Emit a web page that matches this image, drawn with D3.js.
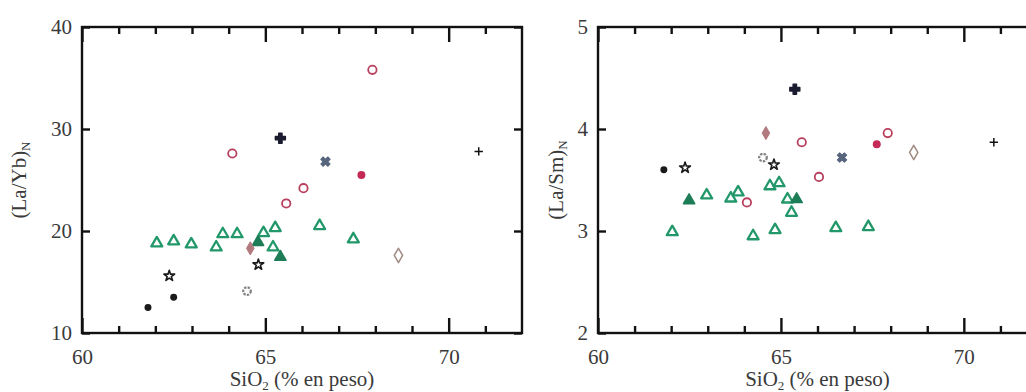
<!DOCTYPE html>
<html>
<head>
<meta charset="utf-8">
<script src="https://cdn.jsdelivr.net/npm/d3@7"></script>
<style>
  html, body { margin: 0; padding: 0; background: #fff; }
  svg { display: block; }
  .tick text { font-family: "Liberation Serif", "DejaVu Serif", serif; font-size: 21px; fill: #3a3a3a; }
  .axis-title { font-family: "Liberation Serif", "DejaVu Serif", serif; font-size: 21px; fill: #3a3a3a; }
</style>
</head>
<body>
<svg id="chart" width="1026" height="392"></svg>
<script>
// ---- data: [SiO2 wt%, ratio] ----
// (La/Yb)N panel
const blackDotYb    = [[61.8, 12.5], [62.5, 13.5]];
const starYb        = [[62.38, 15.6], [64.81, 16.7]];
const clubYb        = [[65.41, 29.1]];
const plusYb        = [[70.82, 27.8]];
const crossYb       = [[66.64, 26.8]];
const redDotYb      = [[67.62, 25.5]];
const ringYb        = [[64.1, 27.6], [67.92, 35.8], [66.04, 24.2], [65.57, 22.7]];
const diamondYb     = [[64.59, 18.3]];
const openDiamondYb = [[68.63, 17.6]];
const gearYb        = [[64.5, 14.1]];
const triOpenYb     = [[62.04, 18.9], [62.5, 19.1], [62.98, 18.8], [63.66, 18.5], [63.84, 19.8],
                       [64.23, 19.8], [64.95, 19.9], [65.27, 20.4], [65.21, 18.5], [66.48, 20.6], [67.4, 19.3]];
const triFilledYb   = [[64.8, 19.0], [65.41, 17.55]];

// (La/Sm)N panel
const blackDotSm    = [[61.8, 3.6]];
const starSm        = [[62.38, 3.62], [64.81, 3.65]];
const clubSm        = [[65.38, 4.39]];
const plusSm        = [[70.82, 3.87]];
const crossSm       = [[66.67, 3.72]];
const redDotSm      = [[67.62, 3.85]];
const ringSm        = [[65.57, 3.87], [67.92, 3.96], [66.04, 3.53], [64.07, 3.28]];
const diamondSm     = [[64.59, 3.96]];
const openDiamondSm = [[68.63, 3.77]];
const gearSm        = [[64.51, 3.72]];
const triOpenSm     = [[62.03, 3.0], [62.97, 3.36], [63.63, 3.33], [63.83, 3.39], [64.24, 2.96],
                       [64.7, 3.45], [64.95, 3.48], [64.84, 3.02], [65.18, 3.32], [65.29, 3.19],
                       [66.5, 3.04], [67.39, 3.05]];
const triFilledSm   = [[62.49, 3.31], [65.43, 3.32]];

// axes
const xDomain = [60, 72];
const xMajorTicks = [60, 65, 70];
const xMinorTicks = [61, 62, 63, 64, 66, 67, 68, 69, 71];
const ybTicks = [10, 20, 30, 40];
const smTicks = [2, 3, 4, 5];

// ---- drawing ----
const svg = d3.select("#chart");
const GREEN = "#22986a";

// plain "+" drawn as two strokes
const plusType = {
  draw(ctx, size) {
    const r = Math.sqrt(size) / 2;
    ctx.moveTo(-r, 0); ctx.lineTo(r, 0);
    ctx.moveTo(0, -r); ctx.lineTo(0, r);
  }
};

function styles() {
  return [
    { fill: "none", stroke: GREEN, sw: 2.3, type: d3.symbolTriangle, size: 52, dy: 1 },
    { fill: "#1d7d57", stroke: "#1d7d57", sw: 1.5, type: d3.symbolTriangle, size: 55, dy: 1 },
    { fill: "#1a1a1a", stroke: "none", sw: 0, type: d3.symbolCircle, size: 38 },
    { fill: "none", stroke: "#1a1a1a", sw: 1.6, type: d3.symbolStar, size: 36 },
    { fill: "#1c1c30", stroke: "#1c1c30", sw: 1.5, type: d3.symbolCross, size: 55 },
    { fill: "none", stroke: "#111", sw: 1.5, type: plusType, size: 70 },
    { fill: "#56657c", stroke: "#56657c", sw: 1, type: d3.symbolCross, size: 55, rot: 45 },
    { fill: "#c42a55", stroke: "none", sw: 0, type: d3.symbolCircle, size: 50 },
    { fill: "none", stroke: "#b8405e", sw: 1.8, type: d3.symbolCircle, size: 55 },
    { fill: "#b27a7f", stroke: "#b27a7f", sw: 1, type: d3.symbolDiamond, size: 50 },
    { fill: "none", stroke: "#a08a82", sw: 1.5, type: d3.symbolDiamond, size: 60 },
    { fill: "none", stroke: "#808080", sw: 2.2, type: d3.symbolCircle, size: 45, dash: "2.4,1.2" }
  ];
}

function panel(opts) {
  const { left, right, top, bottom, yDomain, yTicks, series, yTitle } = opts;
  const x = d3.scaleLinear().domain(xDomain).range([left, right]);
  const y = d3.scaleLinear().domain(yDomain).range([bottom, top]);
  const g = svg.append("g");

  const clean = sel => { sel.select(".domain").remove(); sel.selectAll(".tick line").attr("stroke", "#111").attr("stroke-width", 2.4); };

  // bottom axis: major with labels, minor without
  g.append("g").attr("transform", `translate(0,${bottom})`)
    .call(d3.axisBottom(x).tickValues(xMajorTicks).tickSize(-15).tickPadding(16).tickFormat(d3.format("d")))
    .call(clean);
  g.append("g").attr("transform", `translate(0,${bottom})`)
    .call(d3.axisBottom(x).tickValues(xMinorTicks).tickSize(-7).tickFormat(""))
    .call(clean);
  // top axis
  g.append("g").attr("transform", `translate(0,${top})`)
    .call(d3.axisTop(x).tickValues(xMajorTicks).tickSize(-15).tickFormat(""))
    .call(clean);
  g.append("g").attr("transform", `translate(0,${top})`)
    .call(d3.axisTop(x).tickValues(xMinorTicks).tickSize(-7).tickFormat(""))
    .call(clean);
  // left / right axes
  g.append("g").attr("transform", `translate(${left},0)`)
    .call(d3.axisLeft(y).tickValues(yTicks).tickSize(-8).tickPadding(10).tickFormat(d3.format("d")))
    .call(clean);
  g.append("g").attr("transform", `translate(${right},0)`)
    .call(d3.axisRight(y).tickValues(yTicks).tickSize(-8).tickFormat(""))
    .call(clean);

  g.selectAll(".tick text").attr("font-family", null).attr("font-size", null);

  // frame
  g.append("rect")
    .attr("x", left).attr("y", top)
    .attr("width", right - left).attr("height", bottom - top)
    .attr("fill", "none").attr("stroke", "#111").attr("stroke-width", 2.4);

  // markers
  const st = styles();
  series.forEach((data, i) => {
    const s = st[i];
    const sym = d3.symbol().type(s.type).size(s.size);
    g.append("g").selectAll("path").data(data).join("path")
      .attr("d", sym)
      .attr("transform", d => `translate(${x(d[0])},${y(d[1]) + (s.dy || 0)})` + (s.rot ? ` rotate(${s.rot})` : ""))
      .attr("fill", s.fill)
      .attr("stroke", s.stroke)
      .attr("stroke-width", s.sw)
      .attr("stroke-dasharray", s.dash || null)
      .attr("stroke-linejoin", "round");
  });

  // axis titles
  const xt = g.append("text").attr("class", "axis-title")
    .attr("x", (left + right) / 2).attr("y", 386).attr("text-anchor", "middle");
  xt.append("tspan").text("SiO");
  xt.append("tspan").attr("font-size", "13px").attr("dy", 4).text("2");
  xt.append("tspan").attr("dy", -4).text(" (% en peso)");

  const yt = g.append("text").attr("class", "axis-title")
    .attr("transform", `translate(${opts.yTitleX},${(top + bottom) / 2}) rotate(-90)`)
    .attr("text-anchor", "middle");
  yt.append("tspan").text(yTitle);
  yt.append("tspan").attr("font-size", "13px").attr("dy", 4).text("N");
}

panel({
  left: 82, right: 522, top: 27, bottom: 333,
  yDomain: [10, 40], yTicks: ybTicks, yTitle: "(La/Yb)", yTitleX: 26,
  series: [triOpenYb, triFilledYb, blackDotYb, starYb, clubYb, plusYb, crossYb,
           redDotYb, ringYb, diamondYb, openDiamondYb, gearYb]
});

panel({
  left: 598, right: 1037, top: 27, bottom: 333,
  yDomain: [2, 5], yTicks: smTicks, yTitle: "(La/Sm)", yTitleX: 563,
  series: [triOpenSm, triFilledSm, blackDotSm, starSm, clubSm, plusSm, crossSm,
           redDotSm, ringSm, diamondSm, openDiamondSm, gearSm]
});
</script>
</body>
</html>
